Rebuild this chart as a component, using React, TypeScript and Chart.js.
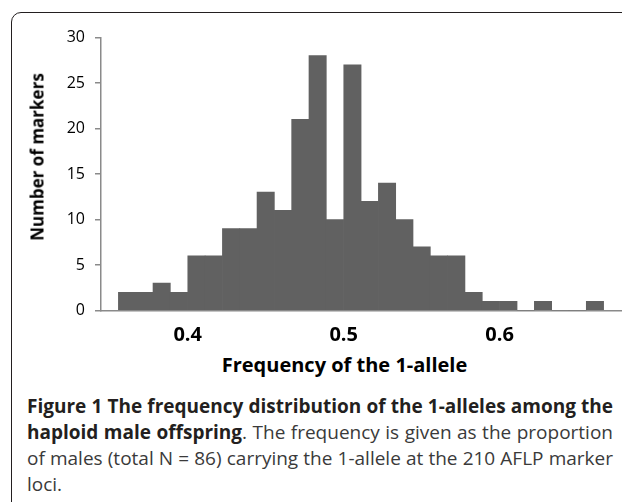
import React, { useEffect, useRef } from "react";
import { Chart, registerables } from "chart.js";

Chart.register(...registerables);

// Bin centres (allele frequency) and number of markers in each bin
const binCenters = [
  0.3611, 0.3722, 0.3833, 0.3944, 0.4056, 0.4167, 0.4278, 0.4389, 0.45, 0.4611,
  0.4722, 0.4833, 0.4944, 0.5056, 0.5167, 0.5278, 0.5389, 0.55, 0.5611, 0.5722,
  0.5833, 0.5944, 0.6056, 0.6167, 0.6278, 0.6389, 0.65, 0.6611,
];
const markerCounts = [
  2, 2, 3, 2, 6, 6, 9, 9, 13, 11, 21, 28, 10, 27, 12, 14, 10, 7, 6, 6, 2, 1, 1, 0, 1, 0, 0, 1,
];
const xTickValues = [0.4, 0.5, 0.6];
const xMin = 0.3444;
const xMax = 0.6778;
const yMin = 0;
const yMax = 30;
const yStep = 5;

const xTitle = "Frequency of the 1-allele";
const yTitle = "Number of markers";

const FONT = "'Open Sans', 'Noto Sans', sans-serif";
const AXIS_GRAY = "#8a8a8a";
const BAR_GRAY = "#616161";

function HistogramChart() {
  const ref = useRef<HTMLCanvasElement | null>(null);
  useEffect(() => {
    if (!ref.current) return;
    const chart = new Chart(ref.current, {
      type: "bar",
      data: {
        datasets: [
          {
            data: binCenters.map((x, i) => ({ x, y: markerCounts[i] })),
            backgroundColor: BAR_GRAY,
            borderWidth: 0,
            barPercentage: 1,
            categoryPercentage: 1,
          },
        ],
      },
      options: {
        animation: false,
        responsive: false,
        devicePixelRatio: 1,
        layout: { padding: { left: 0, right: 1, top: 37.5, bottom: 0 } },
        plugins: {
          legend: { display: false },
          tooltip: { enabled: false },
          title: { display: false },
        },
        scales: {
          x: {
            type: "linear",
            offset: false,
            min: xMin,
            max: xMax,
            afterBuildTicks: (scale: any) => {
              scale.ticks = xTickValues.map((v) => ({ value: v }));
            },
            afterFit: (scale: any) => {
              scale.height = 39.5;
            },
            ticks: {
              padding: 13,
              color: "#000",
              font: { family: FONT, size: 20, weight: "bold" },
              callback: (v: any) => Number(v).toFixed(1),
            },
            grid: { display: false, drawTicks: false },
            border: { display: true, color: AXIS_GRAY, width: 1.5 },
          },
          y: {
            min: yMin,
            max: yMax,
            afterFit: (scale: any) => {
              scale.width = 101;
            },
            ticks: {
              stepSize: yStep,
              padding: 10,
              color: "#000",
              font: { family: FONT, size: 16 },
            },
            grid: {
              display: true,
              drawOnChartArea: false,
              drawTicks: true,
              tickLength: 6,
              color: AXIS_GRAY,
              lineWidth: 1.5,
            },
            border: { display: true, color: AXIS_GRAY, width: 1.5 },
          },
        },
      },
    });
    return () => chart.destroy();
  }, []);
  return (
    <canvas
      ref={ref}
      width={622}
      height={350}
      style={{ position: "absolute", left: 0, top: 0, width: 622, height: 350 }}
    />
  );
}

export default function App() {
  return (
    <div
      style={{
        position: "fixed",
        left: 0,
        top: 0,
        width: 622,
        height: 502,
        overflow: "hidden",
        background: "#fff",
        fontFamily: FONT,
      }}
    >
      <div
        style={{
          position: "absolute",
          left: 11,
          top: 12,
          width: 700,
          height: 700,
          border: "1.5px solid #231f20",
          borderTopLeftRadius: 10,
          boxSizing: "border-box",
        }}
      />
      <HistogramChart />
      <div
        style={{
          position: "absolute",
          left: 37,
          top: 157,
          transform: "translate(-50%, -50%) rotate(-90deg)",
          whiteSpace: "nowrap",
          fontWeight: 700,
          fontSize: 17,
          color: "#000",
          lineHeight: "normal",
        }}
      >
        {yTitle}
      </div>
      <div
        style={{
          position: "absolute",
          left: 344.5,
          top: 350.5,
          transform: "translateX(-50%)",
          whiteSpace: "nowrap",
          fontWeight: 700,
          fontSize: 20,
          color: "#000",
          lineHeight: "normal",
        }}
      >
        {xTitle}
      </div>
      <div
        style={{
          position: "absolute",
          left: 27,
          top: 392.5,
          width: 586,
          fontSize: 19,
          lineHeight: "26.3px",
          textAlign: "justify",
          color: "#3a3a3a",
        }}
      >
        <b style={{ color: "#231f20" }}>
          Figure 1 The frequency distribution of the 1-alleles among the haploid male offspring
        </b>
        . The frequency is given as the proportion of males (total N = 86) carrying the 1-allele
        at the 210 AFLP marker loci.
      </div>
    </div>
  );
}
